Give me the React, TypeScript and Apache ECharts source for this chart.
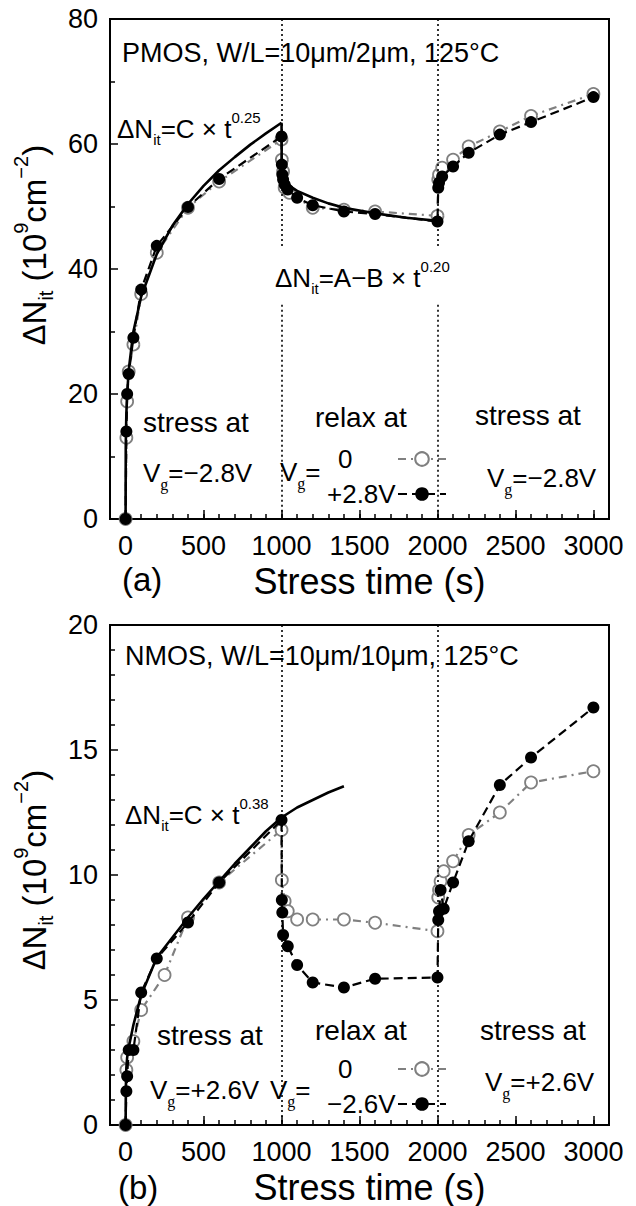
import React, { useEffect, useRef } from 'react';
import * as echarts from 'echarts';

const SANS = "'Liberation Sans', Arial, Helvetica, sans-serif";
const SERIF = "'Liberation Serif', 'DejaVu Serif', serif";

// x-axis major ticks (s)
const xMajor = [0, 500, 1000, 1500, 2000, 2500, 3000];

// (a) PMOS, relax at Vg = 0 (open circles)
const pmosZeroT = [0, 5, 10, 20, 50, 100, 200, 400, 600, 1000, 1002, 1010, 1020, 1050, 1200, 1400, 1600, 2000, 2005, 2010, 2030, 2100, 2200, 2400, 2600, 3000];
const pmosZeroV = [0, 13.0, 18.8, 23.6, 27.9, 36.0, 42.6, 49.8, 54.0, 60.7, 57.5, 55.6, 53.0, 52.2, 49.8, 49.5, 49.2, 48.5, 54.3, 55.1, 56.2, 57.5, 59.6, 62.0, 64.5, 68.0];
// (a) PMOS, relax at Vg = +2.8V (filled circles)
const pmosPosT = [0, 5, 10, 20, 50, 100, 200, 400, 600, 1000, 1002, 1005, 1010, 1020, 1040, 1100, 1200, 1400, 1600, 2000, 2005, 2010, 2030, 2100, 2200, 2400, 2600, 3000];
const pmosPosV = [0, 14.0, 20.0, 23.2, 29.0, 36.7, 43.7, 49.9, 54.4, 61.2, 56.7, 55.1, 54.3, 53.5, 52.7, 51.4, 50.2, 49.2, 48.8, 47.6, 53.0, 53.8, 54.8, 56.4, 58.6, 61.5, 63.5, 67.5];
// (a) fitted curves: C x t^0.25 during stress, A - B x t^0.20 during relaxation
const pmosFitStressT = [0, 1, 2, 5, 10, 20, 50, 100, 200, 300, 400, 500, 600, 700, 800, 900, 1000];
const pmosFitStressV = [0, 11.3, 13.4, 16.9, 20.0, 23.8, 30.0, 35.6, 42.4, 46.9, 50.4, 53.3, 55.8, 57.9, 59.9, 61.7, 63.4];
const pmosFitRelaxT = [1000, 1001, 1005, 1020, 1050, 1100, 1200, 1300, 1400, 1600, 1800, 2000];
const pmosFitRelaxV = [63.4, 57.5, 55.4, 54.2, 53.3, 52.5, 51.4, 50.5, 49.8, 48.9, 48.2, 47.7];

// (b) NMOS, relax at Vg = 0 (open circles)
const nmosZeroT = [0, 5, 10, 50, 100, 250, 400, 600, 1000, 1002, 1020, 1040, 1100, 1200, 1400, 1600, 2000, 2005, 2010, 2020, 2040, 2100, 2200, 2400, 2600, 3000];
const nmosZeroV = [0, 2.2, 2.7, 3.35, 4.6, 6.0, 8.3, 9.7, 11.8, 9.8, 8.95, 8.55, 8.22, 8.22, 8.22, 8.09, 7.75, 9.1, 9.4, 9.75, 10.15, 10.55, 11.6, 12.5, 13.7, 14.15];
// (b) NMOS, relax at Vg = -2.6V (filled circles)
const nmosNegT = [0, 5, 10, 20, 50, 100, 200, 400, 600, 1000, 1002, 1005, 1010, 1040, 1100, 1200, 1400, 1600, 2000, 2005, 2010, 2020, 2040, 2100, 2200, 2400, 2600, 3000];
const nmosNegV = [0, 1.35, 1.95, 3.0, 3.0, 5.3, 6.66, 8.1, 9.7, 12.2, 9.0, 8.5, 7.6, 7.15, 6.4, 5.7, 5.5, 5.85, 5.9, 8.2, 8.55, 9.4, 8.65, 9.7, 11.35, 13.6, 14.7, 16.7];
// (b) fitted curve C x t^0.38
const nmosFitT = [0, 2, 5, 10, 20, 50, 100, 200, 300, 400, 500, 600, 700, 800, 900, 1000, 1100, 1200, 1300, 1400];
const nmosFitV = [0, 1.6, 2.3, 2.7, 3.1, 4.0, 5.2, 6.7, 7.5, 8.3, 9.05, 9.75, 10.45, 11.1, 11.75, 12.3, 12.7, 13.0, 13.3, 13.55];

const zip = (t: number[], v: number[]) => t.map((x, i) => [x, v[i]]);

const GRAY = '#808080';
const TICK_FONT = 27;

const openStyle = (name: string, xi: number, yi: number, t: number[], v: number[]) => ({
  name,
  type: 'line',
  xAxisIndex: xi,
  yAxisIndex: yi,
  data: zip(t, v),
  symbol: 'circle',
  symbolSize: 12,
  z: 2,
  itemStyle: { color: '#ffffff', borderColor: GRAY, borderWidth: 1.8 },
  lineStyle: { color: GRAY, width: 2.2, type: [8, 5, 2, 5] },
  emphasis: { disabled: true },
});

const filledStyle = (name: string, xi: number, yi: number, t: number[], v: number[]) => ({
  name,
  type: 'line',
  xAxisIndex: xi,
  yAxisIndex: yi,
  data: zip(t, v),
  symbol: 'circle',
  symbolSize: 12,
  z: 4,
  itemStyle: { color: '#000000' },
  lineStyle: { color: '#000000', width: 2.2, type: [9, 5] },
  emphasis: { disabled: true },
});

const fitStyle = (xi: number, yi: number, t: number[], v: number[], extra: any = {}) => ({
  type: 'line',
  xAxisIndex: xi,
  yAxisIndex: yi,
  data: zip(t, v),
  symbol: 'none',
  z: 3,
  silent: true,
  lineStyle: { color: '#000000', width: 2.6, type: 'solid' },
  emphasis: { disabled: true },
  ...extra,
});

const dotted = { color: '#000000', width: 1.6, type: [2, 3] };

const xAxesFor = (grid: number) => [
  {
    type: 'value', gridIndex: grid, min: -100, max: 3100, interval: 100, position: 'bottom',
    axisLine: { show: false, onZero: false }, splitLine: { show: false },
    axisTick: { inside: true, length: 5, lineStyle: { color: '#000', width: 1.5 } },
    axisLabel: { show: false },
  },
  {
    type: 'value', gridIndex: grid, min: -100, max: 3100, interval: 100, position: 'bottom',
    axisLine: { show: false, onZero: false }, splitLine: { show: false },
    axisTick: { inside: true, length: 9, customValues: xMajor, lineStyle: { color: '#000', width: 1.5 } },
    axisLabel: {
      customValues: xMajor, formatter: (v: number) => String(v),
      fontSize: TICK_FONT, fontFamily: SANS, color: '#000', margin: 13,
    },
    name: 'Stress time (s)', nameLocation: 'middle', nameGap: 44,
    nameTextStyle: { fontSize: 36, fontFamily: SANS, color: '#000', padding: [0, 0, 0, 20] },
  },
];

const yName = '{d|Δ}{n|N}{s|it}{n| (10}{p|9}{n|cm}{p|−2}{n|)}';
const yRich = {
  d: { fontSize: 31, fontFamily: SANS, color: '#000', lineHeight: 38 },
  n: { fontSize: 33, fontFamily: SANS, color: '#000', lineHeight: 38 },
  s: { fontSize: 20, fontFamily: SANS, color: '#000', lineHeight: 38, padding: [24, 0, 0, 0] },
  p: { fontSize: 20, fontFamily: SANS, color: '#000', lineHeight: 38, padding: [0, 0, 26, 0] },
};

const yAxisFor = (grid: number, max: number, interval: number, minorSplit: number, shift: number) => ({
  type: 'value', gridIndex: grid, min: 0, max, interval,
  axisLine: { show: false, onZero: false }, splitLine: { show: false },
  axisTick: { inside: true, length: 8, lineStyle: { color: '#000', width: 1.5 } },
  minorTick: { show: true, splitNumber: minorSplit, length: 5, lineStyle: { color: '#000', width: 1.5 } },
  axisLabel: { fontSize: TICK_FONT, fontFamily: SANS, color: '#000', margin: 12 },
  name: yName, nameLocation: 'middle', nameRotate: 90, nameGap: 54,
  nameTextStyle: { rich: yRich, padding: [0, 0, 0, shift] },
});

// rich styles for the in-plot annotations
const annRich = {
  m: { fontSize: 26, fontFamily: SANS, color: '#000', lineHeight: 32 },
  f: { fontSize: 26, fontFamily: SANS, color: '#000', lineHeight: 32 },
  g: { fontSize: 16, fontFamily: SERIF, color: '#000', lineHeight: 32, padding: [23, 0, 0, 0] },
  s: { fontSize: 15, fontFamily: SANS, color: '#000', lineHeight: 32, padding: [21, 0, 0, 0] },
  p: { fontSize: 15, fontFamily: SANS, color: '#000', lineHeight: 32, padding: [0, 0, 23, 0] },
};

const label = (x: number, y: number, text: string, size = 27) => ({
  type: 'text', x, y, silent: true,
  style: { text, rich: annRich, fontSize: size, fontFamily: SANS, fill: '#000', align: 'left', verticalAlign: 'middle' },
});

const legendFor = (top: number, names: string[]) => ({
  orient: 'vertical', left: 322, top, align: 'right', itemWidth: 48, itemHeight: 17, itemGap: 9,
  selectedMode: false, data: names,
  formatter: (n: string) => (n === '0' ? `{z|${n}}` : `{v|${n}}`),
  textStyle: {
    fontSize: 26, fontFamily: SANS, color: '#000',
    rich: {
      z: { fontSize: 26, fontFamily: SANS, color: '#000', lineHeight: 24, width: 55, align: 'left', padding: [0, 0, 0, 11] },
      v: { fontSize: 26, fontFamily: SANS, color: '#000', lineHeight: 24, width: 66, align: 'left' },
    },
  },
});

export default function App() {
  const ref = useRef<HTMLDivElement>(null);
  useEffect(() => {
    if (!ref.current) return;
    const chart = echarts.init(ref.current, null, { renderer: 'svg' });
    const option: any = {
      animation: false,
      backgroundColor: '#ffffff',
      grid: [
        { left: 110, top: 19, width: 499, height: 500, show: true, borderColor: '#000', borderWidth: 2, backgroundColor: 'transparent' },
        { left: 110, top: 625, width: 499, height: 500, show: true, borderColor: '#000', borderWidth: 2, backgroundColor: 'transparent' },
      ],
      xAxis: [...xAxesFor(0), ...xAxesFor(1)],
      yAxis: [yAxisFor(0, 80, 20, 2, 48), yAxisFor(1, 20, 5, 5, 10)],
      legend: [legendFor(441, ['0', '+2.8V']), legendFor(1051, ['0', '−2.6V'])],
      series: [
        openStyle('0', 0, 0, pmosZeroT, pmosZeroV),
        fitStyle(0, 0, pmosFitStressT, pmosFitStressV, {
          markLine: {
            silent: true, symbol: 'none', label: { show: false }, lineStyle: dotted,
            data: [
              [{ coord: [1000, 80] }, { coord: [1000, 43.4] }],
              [{ coord: [1000, 34.3] }, { coord: [1000, 0] }],
              [{ coord: [2000, 80] }, { coord: [2000, 43.4] }],
              [{ coord: [2000, 34.3] }, { coord: [2000, 0] }],
            ],
          },
        }),
        fitStyle(0, 0, pmosFitRelaxT, pmosFitRelaxV),
        filledStyle('+2.8V', 0, 0, pmosPosT, pmosPosV),

        openStyle('0', 2, 1, nmosZeroT, nmosZeroV),
        fitStyle(2, 1, nmosFitT, nmosFitV, {
          markLine: {
            silent: true, symbol: 'none', label: { show: false }, lineStyle: dotted,
            data: [
              [{ coord: [1000, 20] }, { coord: [1000, 0] }],
              [{ coord: [2000, 20] }, { coord: [2000, 0] }],
            ],
          },
        }),
        filledStyle('−2.6V', 2, 1, nmosNegT, nmosNegV),
      ],
      graphic: {
        elements: [
          // panel (a)
          label(122, 52.5, 'PMOS, W/L=10μm/2μm, 125°C'),
          label(117, 128.5, '{f|ΔN}{s|it}{f|=C × t}{p|0.25}'),
          label(275, 277.5, '{f|ΔN}{s|it}{f|=A−B × t}{p|0.20}'),
          label(143, 422, 'stress at', 28),
          label(143, 472.5, '{m|V}{g|g}{m|=−2.8V}'),
          label(315, 417, 'relax at', 28),
          label(280, 472, '{m|V}{g|g}{m|=}'),
          label(475, 415, 'stress at', 28),
          label(487, 477.5, '{m|V}{g|g}{m|=−2.8V}'),
          label(122, 579, '(a)', 33),
          // panel (b)
          label(125, 656, 'NMOS, W/L=10μm/10μm, 125°C'),
          label(125, 815, '{f|ΔN}{s|it}{f|=C × t}{p|0.38}'),
          label(157, 1035, 'stress at', 28),
          label(150, 1090, '{m|V}{g|g}{m|=+2.6V}'),
          label(270, 1090, '{m|V}{g|g}{m|=}'),
          label(315, 1030, 'relax at', 28),
          label(480, 1030, 'stress at', 28),
          label(485, 1082, '{m|V}{g|g}{m|=+2.6V}'),
          label(118, 1187, '(b)', 33),
        ],
      },
    };
    chart.setOption(option);
    return () => chart.dispose();
  }, []);
  return (
    <div
      ref={ref}
      style={{ position: 'absolute', left: 0, top: 0, width: 636, height: 1206, background: '#ffffff' }}
    />
  );
}
